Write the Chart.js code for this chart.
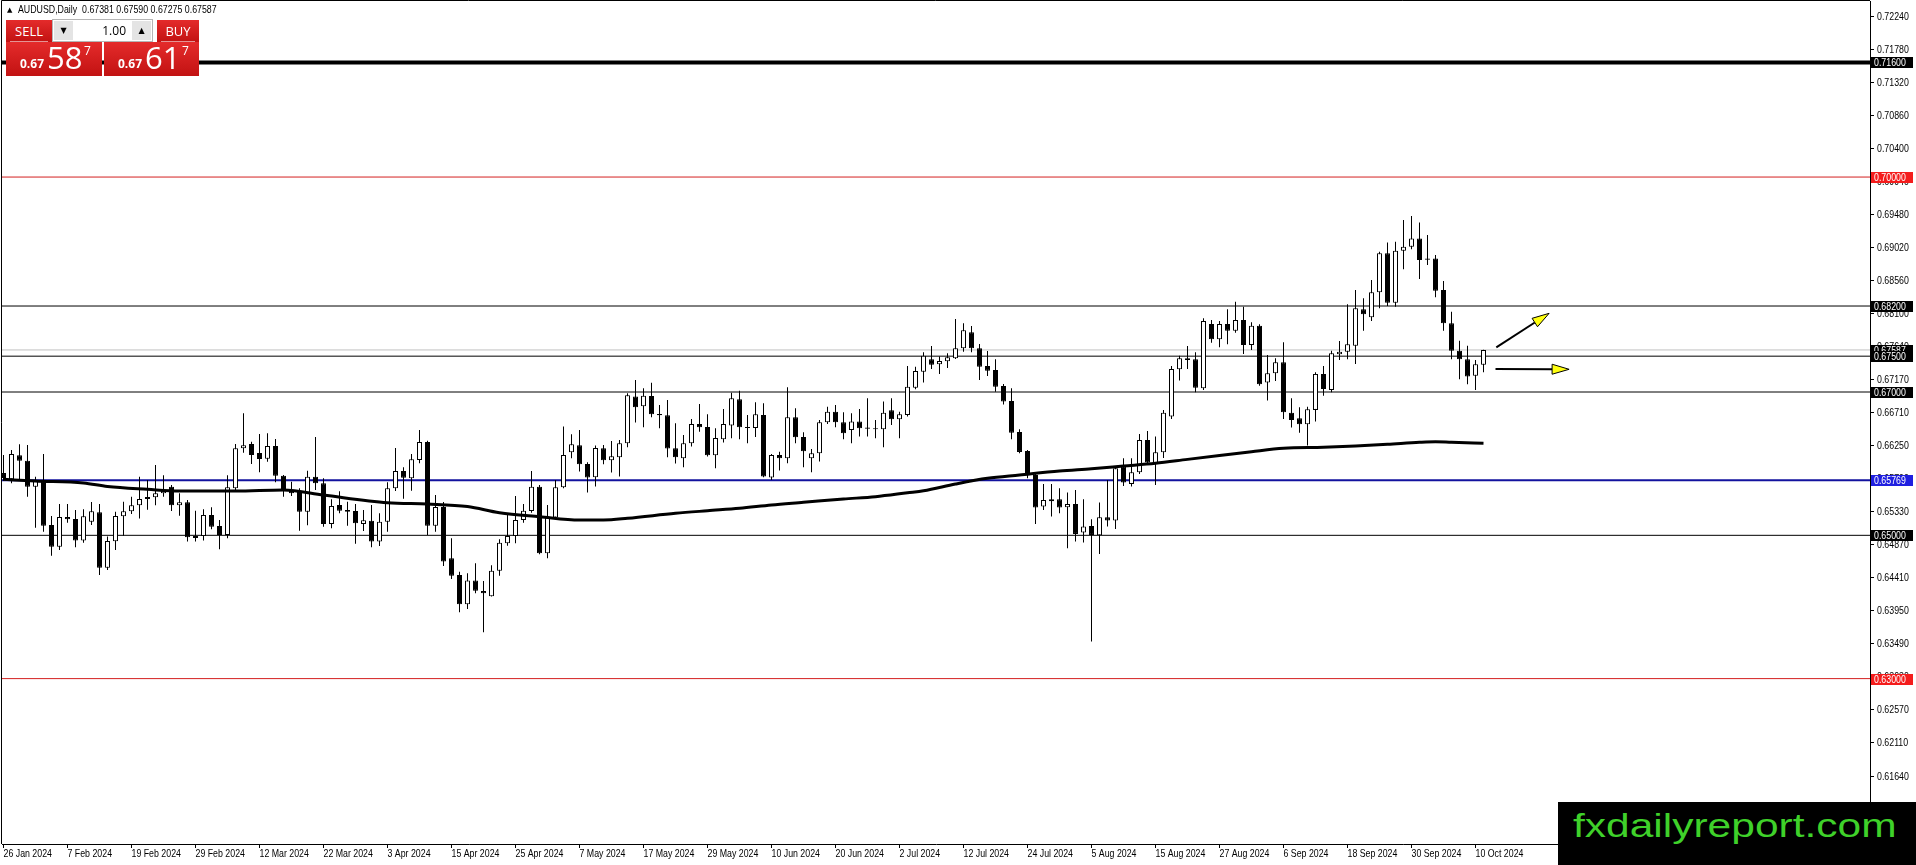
<!DOCTYPE html>
<html>
<head>
<meta charset="utf-8">
<script src="https://cdn.jsdelivr.net/npm/chart.js@4.4.1/dist/chart.umd.min.js"></script>
<style>
  body { margin: 0; background: #fff; overflow: hidden; }
  #wrap { position: relative; width: 1916px; height: 865px; }
  #chart { position: absolute; left: 0; top: 0; }
  #tri { position: absolute; left: 7px; top: 4px; font: 7px/13px 'DejaVu Sans', sans-serif; color: #000; }
  #title { position: absolute; left: 18px; top: 3px; font: 11px/13px 'Liberation Sans', sans-serif; color: #000; white-space: pre; transform: scaleX(0.8); transform-origin: 0 0; }
  .red { position: absolute; background: linear-gradient(#e42b2b, #c21212); color: #fff; }
  .cap { font: 13px/22px 'Open Sans', sans-serif; text-align: center; }
  .cap i { position: absolute; left: 4px; right: 4px; bottom: 0; height: 1px; background: rgba(255,255,255,0.55); }
  #lot { position: absolute; left: 52px; top: 19px; width: 101px; height: 23px; box-sizing: border-box; background: #fff; border: 1px solid #b5b5b5; }
  .btn { position: absolute; top: 1px; width: 19px; height: 19px; background: #e4e4e4; font: 8px/19px 'DejaVu Sans', sans-serif; text-align: center; color: #000; }
  #lotval { position: absolute; right: 26px; top: 0; font: 12px/21px 'Open Sans', sans-serif; color: #000; }
  .small { position: absolute; font: bold 12px/1 'Open Sans', sans-serif; color: #fff; }
  .big { position: absolute; font: 31px/1 'Open Sans', sans-serif; color: #fff; }
  .sup { position: absolute; font: 12px/1 'Open Sans', sans-serif; color: #fff; }
  #mark { position: absolute; left: 1558px; top: 802px; width: 358px; height: 63px; background: #000; overflow: hidden; }
  #mark span { position: absolute; left: 15px; top: 6px; font: 34px/1 'Liberation Sans', Arial, sans-serif; color: #3fd12a; transform: scaleX(1.25); transform-origin: 0 0; white-space: nowrap; }
</style>
</head>
<body>
<div id="wrap">
  <canvas id="chart" width="1916" height="865"></canvas>
  <div id="tri">▲</div>
  <div id="title">AUDUSD,Daily  0.67381 0.67590 0.67275 0.67587</div>

  <div class="red cap" style="left:6px;top:20px;width:46px;height:22px;">SELL<i></i></div>
  <div class="red" style="left:6px;top:42px;width:96px;height:34px;"></div>
  <div class="red cap" style="left:157px;top:20px;width:42px;height:22px;">BUY<i></i></div>
  <div class="red" style="left:104px;top:42px;width:95px;height:34px;"></div>
  <div id="lot">
    <div class="btn" style="left:1px;">▼</div>
    <div id="lotval">1.00</div>
    <div class="btn" style="right:1px;">▲</div>
  </div>
  <div class="small" style="left:20px;top:58px;">0.67</div>
  <div class="big" style="left:47px;top:42px;">58</div>
  <div class="sup" style="left:84px;top:45px;">7</div>
  <div class="small" style="left:118px;top:58px;">0.67</div>
  <div class="big" style="left:145px;top:42px;">61</div>
  <div class="sup" style="left:182px;top:45px;">7</div>

  <div id="mark"><span>fxdailyreport.com</span></div>
</div>
<script>
// AUDUSD daily, 26 Jan 2024 .. 11 Oct 2024 (one bar per weekday)
const dateLabels = ['26 Jan 2024', '7 Feb 2024', '19 Feb 2024', '29 Feb 2024', '12 Mar 2024', '22 Mar 2024',
  '3 Apr 2024', '15 Apr 2024', '25 Apr 2024', '7 May 2024', '17 May 2024', '29 May 2024', '10 Jun 2024',
  '20 Jun 2024', '2 Jul 2024', '12 Jul 2024', '24 Jul 2024', '5 Aug 2024', '15 Aug 2024', '27 Aug 2024',
  '6 Sep 2024', '18 Sep 2024', '30 Sep 2024', '10 Oct 2024'];
const labelStep = 8;

const opens = [
  0.65869, 0.65781, 0.66116, 0.66042, 0.65679, 0.65749, 0.65144, 0.64842, 0.65256, 0.65228,
  0.64926, 0.65191, 0.65321, 0.64549, 0.64916, 0.65265, 0.65335, 0.65419, 0.65507, 0.65530,
  0.65586, 0.65679, 0.65419, 0.65460, 0.64963, 0.64990, 0.65284, 0.65130, 0.65005, 0.65656,
  0.66214, 0.66274, 0.66149, 0.66070, 0.66246, 0.65832, 0.65637, 0.65623, 0.65330, 0.65819,
  0.65726, 0.65158, 0.65423, 0.65354, 0.65340, 0.65158, 0.65205, 0.64912, 0.65191, 0.65656,
  0.65898, 0.65795, 0.66051, 0.66302, 0.65135, 0.65395, 0.64679, 0.64447, 0.64038, 0.64368,
  0.64224, 0.64149, 0.64507, 0.64889, 0.64990, 0.65214, 0.65340, 0.65679, 0.64749, 0.65247,
  0.65671, 0.66159, 0.66257, 0.65996, 0.65810, 0.66215, 0.66047, 0.66089, 0.66285, 0.66936,
  0.66801, 0.66945, 0.66694, 0.66675, 0.66215, 0.66075, 0.66285, 0.66554, 0.66512, 0.66117,
  0.66340, 0.66531, 0.66898, 0.66512, 0.66498, 0.66680, 0.65806, 0.66122, 0.66075, 0.66647,
  0.66373, 0.66075, 0.66145, 0.66577, 0.66726, 0.66577, 0.66471, 0.66587, 0.66503, 0.66480,
  0.66480, 0.66745, 0.66619, 0.66680, 0.67061, 0.67284, 0.67456, 0.67387, 0.67428, 0.67470,
  0.67610, 0.67833, 0.67610, 0.67363, 0.67308, 0.67084, 0.66875, 0.66443, 0.66178, 0.65843,
  0.65401, 0.65475, 0.65503, 0.65392, 0.65438, 0.65038, 0.65131, 0.65001, 0.65252, 0.65206,
  0.65959, 0.65717, 0.65880, 0.66331, 0.66006, 0.66159, 0.66657, 0.67317, 0.67470, 0.67456,
  0.67052, 0.67949, 0.67735, 0.67949, 0.67856, 0.68005, 0.67656, 0.67926, 0.67131, 0.67261,
  0.67414, 0.66712, 0.66633, 0.66550, 0.66750, 0.67252, 0.67029, 0.67526, 0.67563, 0.67647,
  0.68154, 0.68042, 0.68391, 0.68935, 0.68247, 0.68972, 0.69028, 0.69144, 0.68865, 0.68865,
  0.68424, 0.67959, 0.67577, 0.67456, 0.67228, 0.67381
];
const highs = [
  0.66121, 0.66191, 0.66270, 0.66260, 0.65819, 0.66135, 0.65270, 0.65437, 0.65437, 0.65354,
  0.65363, 0.65465, 0.65437, 0.64982, 0.65330, 0.65470, 0.65540, 0.65819, 0.65772, 0.65981,
  0.65837, 0.65702, 0.65586, 0.65493, 0.65344, 0.65363, 0.65391, 0.65214, 0.65837, 0.66274,
  0.66702, 0.66307, 0.66414, 0.66423, 0.66344, 0.65842, 0.65749, 0.65656, 0.65902, 0.66372,
  0.65795, 0.65502, 0.65614, 0.65470, 0.65437, 0.65354, 0.65423, 0.65307, 0.65740, 0.66218,
  0.65949, 0.66135, 0.66470, 0.66321, 0.65563, 0.65465, 0.64958, 0.64493, 0.64470, 0.64610,
  0.64363, 0.64582, 0.64944, 0.65284, 0.65549, 0.65437, 0.65898, 0.65702, 0.65423, 0.65772,
  0.66517, 0.66410, 0.66471, 0.66019, 0.66252, 0.66261, 0.66317, 0.66331, 0.66982, 0.67168,
  0.67052, 0.67131, 0.66819, 0.66889, 0.66564, 0.66401, 0.66624, 0.66833, 0.66689, 0.66494,
  0.66763, 0.66991, 0.67019, 0.66680, 0.66856, 0.66843, 0.66136, 0.66168, 0.67066, 0.66773,
  0.66438, 0.66205, 0.66610, 0.66796, 0.66819, 0.66717, 0.66703, 0.66763, 0.66912, 0.66610,
  0.66866, 0.66912, 0.66726, 0.67363, 0.67354, 0.67554, 0.67642, 0.67494, 0.67540, 0.68019,
  0.67959, 0.67921, 0.67670, 0.67573, 0.67456, 0.67112, 0.67052, 0.66480, 0.66192, 0.65866,
  0.65717, 0.65717, 0.65657, 0.65596, 0.65634, 0.65503, 0.65224, 0.65457, 0.65773, 0.65959,
  0.66075, 0.66075, 0.66415, 0.66457, 0.66378, 0.66750, 0.67363, 0.67507, 0.67642, 0.67554,
  0.68028, 0.68005, 0.67991, 0.68154, 0.68261, 0.68191, 0.67972, 0.67945, 0.67517, 0.67470,
  0.67693, 0.66912, 0.66787, 0.66796, 0.67275, 0.67363, 0.67577, 0.67712, 0.68224, 0.68424,
  0.68307, 0.68563, 0.68958, 0.69088, 0.69098, 0.69400, 0.69456, 0.69367, 0.69191, 0.68912,
  0.68549, 0.68121, 0.67717, 0.67647, 0.67447, 0.67590
];
const lows = [
  0.65758, 0.65726, 0.65772, 0.65540, 0.65107, 0.65051, 0.64716, 0.64796, 0.65177, 0.64833,
  0.64898, 0.65144, 0.64447, 0.64517, 0.64796, 0.64995, 0.65298, 0.65233, 0.65358, 0.65419,
  0.65540, 0.65340, 0.65274, 0.64912, 0.64912, 0.64926, 0.65084, 0.64805, 0.64958, 0.65632,
  0.66153, 0.65995, 0.65879, 0.66028, 0.65740, 0.65540, 0.65549, 0.65065, 0.65140, 0.65632,
  0.65121, 0.65098, 0.65307, 0.65135, 0.64884, 0.65060, 0.64833, 0.64851, 0.65051, 0.65619,
  0.65512, 0.65623, 0.66005, 0.65005, 0.65051, 0.64572, 0.64391, 0.63926, 0.63972, 0.64191,
  0.63647, 0.64145, 0.64437, 0.64856, 0.64889, 0.65177, 0.65316, 0.64735, 0.64679, 0.65223,
  0.65657, 0.66075, 0.65889, 0.65596, 0.65680, 0.65992, 0.65875, 0.65820, 0.66229, 0.66573,
  0.66508, 0.66647, 0.66494, 0.66089, 0.66001, 0.65950, 0.66238, 0.66447, 0.66099, 0.65936,
  0.66294, 0.66354, 0.66340, 0.66285, 0.66373, 0.65810, 0.65773, 0.65903, 0.66006, 0.66285,
  0.65950, 0.65880, 0.66029, 0.66554, 0.66508, 0.66340, 0.66285, 0.66378, 0.66378, 0.66354,
  0.66229, 0.66540, 0.66354, 0.66657, 0.67038, 0.67131, 0.67321, 0.67252, 0.67335, 0.67461,
  0.67563, 0.67554, 0.67168, 0.67224, 0.67005, 0.66824, 0.66340, 0.66145, 0.65796, 0.65159,
  0.65355, 0.65262, 0.65308, 0.64820, 0.64913, 0.64899, 0.63518, 0.64741, 0.65122, 0.65089,
  0.65689, 0.65680, 0.65857, 0.65982, 0.65703, 0.66080, 0.66624, 0.67159, 0.67321, 0.66996,
  0.67029, 0.67689, 0.67624, 0.67666, 0.67828, 0.67531, 0.67587, 0.67089, 0.66880, 0.67154,
  0.66624, 0.66503, 0.66433, 0.66252, 0.66587, 0.66949, 0.66996, 0.67447, 0.67456, 0.67391,
  0.67856, 0.67991, 0.68168, 0.68200, 0.68191, 0.68712, 0.68991, 0.68577, 0.68772, 0.68321,
  0.67856, 0.67456, 0.67177, 0.67108, 0.67029, 0.67275
];
const closes = [
  0.65800, 0.66135, 0.66042, 0.65679, 0.65758, 0.65135, 0.64842, 0.65256, 0.65223, 0.64926,
  0.65265, 0.65335, 0.64549, 0.64921, 0.65270, 0.65335, 0.65419, 0.65507, 0.65535, 0.65586,
  0.65623, 0.65419, 0.65460, 0.64972, 0.64990, 0.65284, 0.65121, 0.65005, 0.65670, 0.66214,
  0.66256, 0.66121, 0.66065, 0.66246, 0.65832, 0.65623, 0.65586, 0.65330, 0.65819, 0.65726,
  0.65158, 0.65410, 0.65344, 0.65330, 0.65168, 0.65209, 0.64912, 0.65191, 0.65656, 0.65898,
  0.65805, 0.66060, 0.66302, 0.65135, 0.65395, 0.64633, 0.64437, 0.64038, 0.64368, 0.64228,
  0.64191, 0.64507, 0.64898, 0.64990, 0.65214, 0.65344, 0.65679, 0.64749, 0.65247, 0.65670,
  0.66122, 0.66271, 0.65992, 0.65806, 0.66219, 0.66047, 0.66103, 0.66285, 0.66954, 0.66787,
  0.66949, 0.66689, 0.66675, 0.66210, 0.66089, 0.66285, 0.66554, 0.66508, 0.66117, 0.66359,
  0.66554, 0.66912, 0.66508, 0.66498, 0.66689, 0.65820, 0.66122, 0.66075, 0.66647, 0.66368,
  0.66173, 0.66145, 0.66577, 0.66726, 0.66577, 0.66424, 0.66587, 0.66494, 0.66489, 0.66489,
  0.66712, 0.66619, 0.66689, 0.67075, 0.67294, 0.67507, 0.67382, 0.67433, 0.67484, 0.67610,
  0.67861, 0.67610, 0.67354, 0.67298, 0.67075, 0.66866, 0.66433, 0.66164, 0.65843, 0.65387,
  0.65494, 0.65503, 0.65387, 0.65438, 0.65020, 0.65122, 0.65006, 0.65252, 0.65206, 0.65936,
  0.65736, 0.65880, 0.66331, 0.66015, 0.66159, 0.66712, 0.67321, 0.67470, 0.67447, 0.67061,
  0.67991, 0.67735, 0.67949, 0.67856, 0.68005, 0.67656, 0.67926, 0.67108, 0.67261, 0.67414,
  0.66717, 0.66610, 0.66550, 0.66759, 0.67252, 0.67042, 0.67540, 0.67563, 0.67666, 0.68168,
  0.68084, 0.68391, 0.68935, 0.68247, 0.68972, 0.69028, 0.69144, 0.68842, 0.68847, 0.68414,
  0.67959, 0.67577, 0.67456, 0.67215, 0.67387, 0.67587
];

// moving average, read at selected bars
const maBars = [0, 4, 10, 13, 18, 22, 29, 35, 40, 48, 53, 58, 62, 67, 72, 75, 78, 84, 88, 92, 96, 100,
  105, 109, 113, 115, 119, 123, 127, 132, 136, 140, 144, 148, 152, 156, 160, 165, 169, 173, 177, 179, 181, 185];
const maValues = [0.65781, 0.65758, 0.65730, 0.65681, 0.65642, 0.65618, 0.65618, 0.65632, 0.65562, 0.65455,
  0.65437, 0.65402, 0.65315, 0.65260, 0.65213, 0.65213, 0.65237, 0.65307, 0.65343, 0.65377, 0.65423, 0.65460,
  0.65507, 0.65539, 0.65594, 0.65622, 0.65716, 0.65795, 0.65841, 0.65897, 0.65929, 0.65967, 0.66005, 0.66060,
  0.66114, 0.66167, 0.66214, 0.66228, 0.66246, 0.66270, 0.66298, 0.66306, 0.66298, 0.66284];

const levels = [0.71600, 0.70000, 0.68200, 0.67500, 0.67000, 0.65769, 0.65000, 0.63000];
const bidPrice = 0.67587;
const priceTicks = [0.72240, 0.71780, 0.71320, 0.70860, 0.70400, 0.69940, 0.69480, 0.69020, 0.68560,
  0.68100, 0.67640, 0.67170, 0.66710, 0.66250, 0.65790, 0.65330, 0.64870, 0.64410, 0.63950, 0.63490,
  0.63030, 0.62570, 0.62110, 0.61640, 0.61180];
// arrows: [fromBar, fromPrice, toBar, toPrice]
const arrows = [[186.6, 0.67624, 193.2, 0.68098], [186.5, 0.67321, 195.7, 0.67317]];

// styles
const levelColors = ['#000', '#d42020', '#000', '#000', '#000', '#12129e', '#000', '#d42020'];
const levelWidths = [4, 1, 1, 1, 1, 2, 1, 1];
const tagColors = ['#000', '#f41c1c', '#000', '#000', '#000', '#1f1fe0', '#000', '#f41c1c'];
const AXIS_FONT = "11px 'Liberation Sans', Arial, sans-serif";
const SQUEEZE = 0.8;

const xMin = -0.1875, xMax = 233.3125;
const yMin = 0.60692, yMax = 0.72457;

const idx = opens.map((_, i) => i);

const lineSet = (price, color, width) => ({
  type: 'line',
  data: [{ x: xMin, y: price }, { x: xMax, y: price }],
  borderColor: color, borderWidth: width, pointRadius: 0, order: 5
});

const datasets = [
  ...levels.map((p, k) => lineSet(p, levelColors[k], levelWidths[k])),
  lineSet(bidPrice, '#c0c0c0', 1),
  {
    type: 'bar',
    data: idx.map(i => ({ x: i, y: [lows[i], highs[i]] })),
    backgroundColor: '#000', grouped: false, maxBarThickness: 1, inflateAmount: 0, order: 2
  },
  {
    type: 'bar',
    data: idx.map(i => ({ x: i, y: [opens[i], closes[i]] })),
    backgroundColor: idx.map(i => closes[i] >= opens[i] ? '#fff' : '#000'),
    borderColor: '#000', borderWidth: 1, borderSkipped: false, minBarLength: 1,
    grouped: false, maxBarThickness: 5, inflateAmount: 0, order: 1
  },
  {
    type: 'line',
    data: maBars.map((b, k) => ({ x: b, y: maValues[k] })),
    borderColor: '#000', borderWidth: 3, pointRadius: 0, cubicInterpolationMode: 'monotone', order: 0
  }
];

// MT4 axis text is narrower than any installed font, so squeeze it a little
function narrowText(ctx, text, x, y) {
  ctx.save();
  ctx.translate(x, y);
  ctx.scale(SQUEEZE, 1);
  ctx.fillText(text, 0, 0);
  ctx.restore();
}

function drawArrow(ctx, x1, y1, x2, y2) {
  const a = Math.atan2(y2 - y1, x2 - x1);
  const len = 17, half = 5;
  const bx = x2 - len * Math.cos(a), by = y2 - len * Math.sin(a);
  ctx.strokeStyle = '#000';
  ctx.lineWidth = 2;
  ctx.beginPath();
  ctx.moveTo(x1, y1);
  ctx.lineTo(bx, by);
  ctx.stroke();
  ctx.beginPath();
  ctx.moveTo(x2, y2);
  ctx.lineTo(bx + half * Math.sin(a), by - half * Math.cos(a));
  ctx.lineTo(bx - half * Math.sin(a), by + half * Math.cos(a));
  ctx.closePath();
  ctx.fillStyle = '#ffff10';
  ctx.fill();
  ctx.lineWidth = 1;
  ctx.stroke();
}

const overlay = {
  id: 'overlay',
  afterDatasetsDraw(chart) {
    const ctx = chart.ctx, xs = chart.scales.x, ys = chart.scales.y;
    ctx.save();
    arrows.forEach(a => drawArrow(ctx, xs.getPixelForValue(a[0]), ys.getPixelForValue(a[1]),
      xs.getPixelForValue(a[2]), ys.getPixelForValue(a[3])));
    ctx.restore();
  },
  afterDraw(chart) {
    const ctx = chart.ctx, area = chart.chartArea, xs = chart.scales.x, ys = chart.scales.y;
    ctx.save();
    // frame on the left and top
    ctx.strokeStyle = '#000';
    ctx.lineWidth = 1;
    ctx.beginPath();
    ctx.moveTo(area.left - 0.5, area.bottom);
    ctx.lineTo(area.left - 0.5, area.top - 0.5);
    ctx.lineTo(area.right, area.top - 0.5);
    ctx.stroke();

    ctx.font = AXIS_FONT;
    ctx.fillStyle = '#000';
    ctx.textAlign = 'left';
    // price scale labels
    ctx.textBaseline = 'middle';
    ys.ticks.forEach(t => narrowText(ctx, t.value.toFixed(5), area.right + 7, ys.getPixelForValue(t.value) + 0.5));
    // time scale labels
    ctx.textBaseline = 'top';
    xs.ticks.forEach((t, i) => narrowText(ctx, dateLabels[i], xs.getPixelForValue(t.value), area.bottom + 4));

    // price tags
    ctx.textBaseline = 'middle';
    const tag = (price, bg) => {
      const y = Math.round(ys.getPixelForValue(price));
      ctx.fillStyle = bg;
      ctx.fillRect(area.right + 1, y - 5, 42, 11);
      ctx.fillStyle = '#fff';
      narrowText(ctx, price.toFixed(5), area.right + 4, y + 0.5);
    };
    tag(bidPrice, '#000');
    levels.forEach((p, k) => tag(p, tagColors[k]));
    ctx.restore();
  }
};

new Chart(document.getElementById('chart'), {
  type: 'bar',
  data: { datasets },
  plugins: [overlay],
  options: {
    responsive: false,
    animation: false,
    devicePixelRatio: 1,
    events: [],
    layout: { padding: { left: 2, top: 1, right: 0, bottom: 0 } },
    plugins: { legend: { display: false }, tooltip: { enabled: false } },
    scales: {
      x: {
        type: 'linear', min: xMin, max: xMax, offset: false,
        afterBuildTicks: s => { s.ticks = dateLabels.map((_, k) => ({ value: k * labelStep })); },
        afterFit: s => { s.height = 21; s.paddingLeft = 0; s.paddingRight = 0; },
        grid: { drawOnChartArea: false, drawTicks: true, tickLength: 4, color: '#000', offset: false },
        border: { display: true, color: '#000', width: 1 },
        ticks: { display: false, autoSkip: false, maxRotation: 0 }
      },
      y: {
        type: 'linear', position: 'right', min: yMin, max: yMax, beginAtZero: false,
        afterBuildTicks: s => { s.ticks = priceTicks.map(v => ({ value: v })); },
        afterFit: s => { s.width = 46; s.paddingTop = 0; s.paddingBottom = 0; },
        grid: { drawOnChartArea: false, drawTicks: true, tickLength: 4, color: '#000' },
        border: { display: true, color: '#000', width: 1 },
        ticks: { display: false }
      }
    }
  }
});
</script>
</body>
</html>
